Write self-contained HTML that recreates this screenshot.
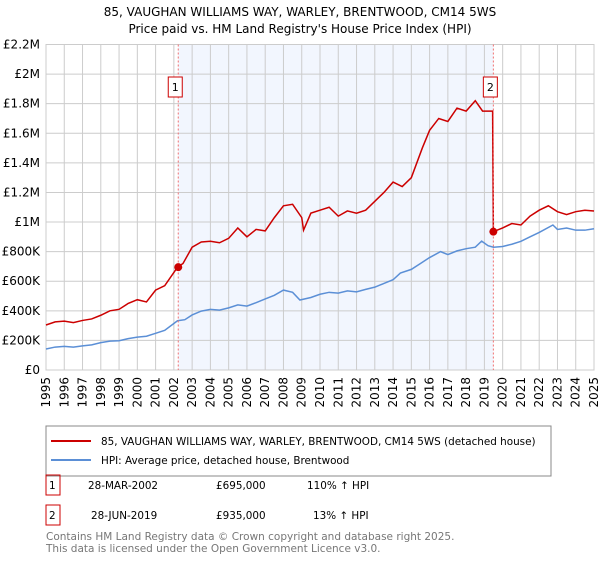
<!DOCTYPE html>
<html><head><meta charset="utf-8"><style>
body{margin:0;background:#fff;font-family:"DejaVu Sans","Liberation Sans",sans-serif;}
svg text{font-family:"DejaVu Sans","Liberation Sans",sans-serif;}
</style></head><body>
<svg id="chart" width="600" height="560" xmlns="http://www.w3.org/2000/svg">
<text x="300" y="16" text-anchor="middle" font-size="12">85, VAUGHAN WILLIAMS WAY, WARLEY, BRENTWOOD, CM14 5WS</text>
<text x="300" y="33" text-anchor="middle" font-size="12">Price paid vs. HM Land Registry's House Price Index (HPI)</text>
<g id="grid"></g><g id="marks"></g><g id="axes"></g>
<g>
<rect x="46" y="426" width="505" height="50" fill="#fff" stroke="#888"/>
<line x1="51" y1="441" x2="91" y2="441" stroke="#cc0000" stroke-width="2"/>
<text x="101" y="445" font-size="10.4">85, VAUGHAN WILLIAMS WAY, WARLEY, BRENTWOOD, CM14 5WS (detached house)</text>
<line x1="51" y1="460" x2="91" y2="460" stroke="#5b8fd6" stroke-width="2"/>
<text x="101" y="464" font-size="10.4">HPI: Average price, detached house, Brentwood</text>
</g>
<g font-size="10.4">
<rect x="46" y="475" width="14" height="20" fill="none" stroke="#cc0000"/><text x="49" y="489">1</text>
<text x="88" y="489">28-MAR-2002</text><text x="216" y="489">£695,000</text><text x="307" y="489">110% ↑ HPI</text></g>
<g font-size="10.4">
<rect x="46" y="505" width="14" height="20" fill="none" stroke="#cc0000"/><text x="49" y="519">2</text>
<text x="91" y="519">28-JUN-2019</text><text x="216" y="519">£935,000</text><text x="313" y="519">13% ↑ HPI</text></g>
<text x="46" y="540" font-size="10.5" fill="#777">Contains HM Land Registry data © Crown copyright and database right 2025.</text>
<text x="46" y="552" font-size="10.5" fill="#777">This data is licensed under the Open Government Licence v3.0.</text>
</svg>
<script>
const yTicks=[0,200000,400000,600000,800000,1000000,1200000,1400000,1600000,1800000,2000000,2200000];
const yTickLabels=["£0","£200K","£400K","£600K","£800K","£1M","£1.2M","£1.4M","£1.6M","£1.8M","£2M","£2.2M"];
const xYears=[1995,1996,1997,1998,1999,2000,2001,2002,2003,2004,2005,2006,2007,2008,2009,2010,2011,2012,2013,2014,2015,2016,2017,2018,2019,2020,2021,2022,2023,2024,2025];
const hpiDates=[1995,1995.5,1996,1996.5,1997,1997.5,1998,1998.5,1999,1999.5,2000,2000.5,2001,2001.5,2002.2,2002.6,2003,2003.5,2004,2004.5,2005,2005.5,2006,2006.5,2007,2007.5,2008,2008.5,2008.9,2009.5,2010,2010.5,2011,2011.5,2012,2012.5,2013,2013.5,2014,2014.4,2015,2015.5,2016,2016.6,2017,2017.5,2018,2018.5,2018.85,2019.2,2019.5,2020,2020.5,2021,2021.5,2022,2022.75,2023,2023.5,2024,2024.5,2025];
const hpiValues=[142,155,160,155,163,170,185,195,198,212,222,228,248,268,333,340,372,398,410,405,420,440,432,455,480,505,540,525,473,490,512,525,520,535,528,545,560,585,610,655,680,720,760,800,780,805,820,830,871,840,830,835,850,870,900,930,980,950,960,945,945,955];
const saleDates=[1995,1995.5,1996,1996.5,1997,1997.5,1998,1998.5,1999,1999.5,2000,2000.5,2001,2001.5,2002.2,2002.5,2003,2003.5,2004,2004.5,2005,2005.5,2006,2006.5,2007,2007.5,2008,2008.5,2009,2009.1,2009.5,2010,2010.5,2011,2011.5,2012,2012.5,2013,2013.5,2014,2014.5,2015,2015.6,2016,2016.5,2017,2017.5,2018,2018.5,2018.9,2019.45,2019.49,2020,2020.5,2021,2021.5,2022,2022.5,2023,2023.5,2024,2024.5,2025];
const saleValues=[304,325,330,320,335,345,370,400,410,450,475,460,540,570,695,720,830,865,870,860,890,960,900,950,940,1030,1110,1120,1030,945,1060,1080,1100,1040,1075,1060,1080,1140,1200,1270,1240,1300,1500,1620,1700,1680,1770,1750,1820,1750,1750,935,960,990,980,1040,1080,1110,1070,1050,1070,1080,1075];
const sales=[[2002.24,695000,"1"],[2019.49,935000,"2"]];
const NS="http://www.w3.org/2000/svg";
const X0=46,X1=594,Y0=370,Y1=44.5;
const x=t=>X0+(t-1995)/30*(X1-X0);
const y=v=>Y0-v/2200000*(Y0-Y1);
function mk(tag,at,parent){const e=document.createElementNS(NS,tag);for(const k in at)e.setAttribute(k,at[k]);document.getElementById(parent).appendChild(e);return e;}
const shade=mk('rect',{x:x(sales[0][0]),y:Y1,width:x(sales[1][0])-x(sales[0][0]),height:Y0-Y1,fill:'#eef3fd',opacity:0.75},'grid');


yTicks.forEach((v,i)=>{
 const l=mk('line',{x1:X0,x2:X1,y1:y(v),y2:y(v),stroke:'#ccc'},'grid');
 
 
 const t=mk('text',{x:40,y:y(v)+4,'text-anchor':'end','font-size':12},'axes');
 
 
 t.textContent=yTickLabels[i];
});
xYears.forEach(yr=>{
 const l=mk('line',{x1:x(yr),x2:x(yr),y1:Y1,y2:Y0,stroke:'#ccc'},'grid');
 
 
 const tx=x(yr)+4, ty=377;
 const t=mk('text',{x:tx,y:ty,'text-anchor':'end','font-size':12,transform:'rotate(-90 '+tx+' '+ty+')'},'axes');
 
 
 t.textContent=yr;
});
const frame=mk('rect',{x:X0,y:Y1,width:X1-X0,height:Y0-Y1,fill:'none',stroke:'#ccc'},'grid');


const hp=mk('polyline',{points:hpiDates.map((d,i)=>x(d)+','+y(hpiValues[i]*1000)).join(' '),fill:'none',stroke:'#5b8fd6','stroke-width':1.5},'marks');


const pp=mk('polyline',{points:saleDates.map((d,i)=>x(d)+','+y(saleValues[i]*1000)).join(' '),fill:'none',stroke:'#cc0000','stroke-width':1.5},'marks');


sales.forEach(s=>{
 const l=mk('line',{x1:x(s[0]),x2:x(s[0]),y1:Y1,y2:Y0,stroke:'#f07070','stroke-dasharray':'2,2'},'marks');
 
 
 const c=mk('circle',{cx:x(s[0]),cy:y(s[1]),r:4,fill:'#cc0000'},'marks');
 
 
 const b=mk('rect',{x:x(s[0])-10,y:77,width:14,height:20,fill:'#fff',stroke:'#cc0000'},'marks');
 
 
 const t=mk('text',{x:x(s[0])-3,y:91,'text-anchor':'middle','font-size':11},'marks');
 
 
 t.textContent=s[2];
});
</script>
</body></html>
